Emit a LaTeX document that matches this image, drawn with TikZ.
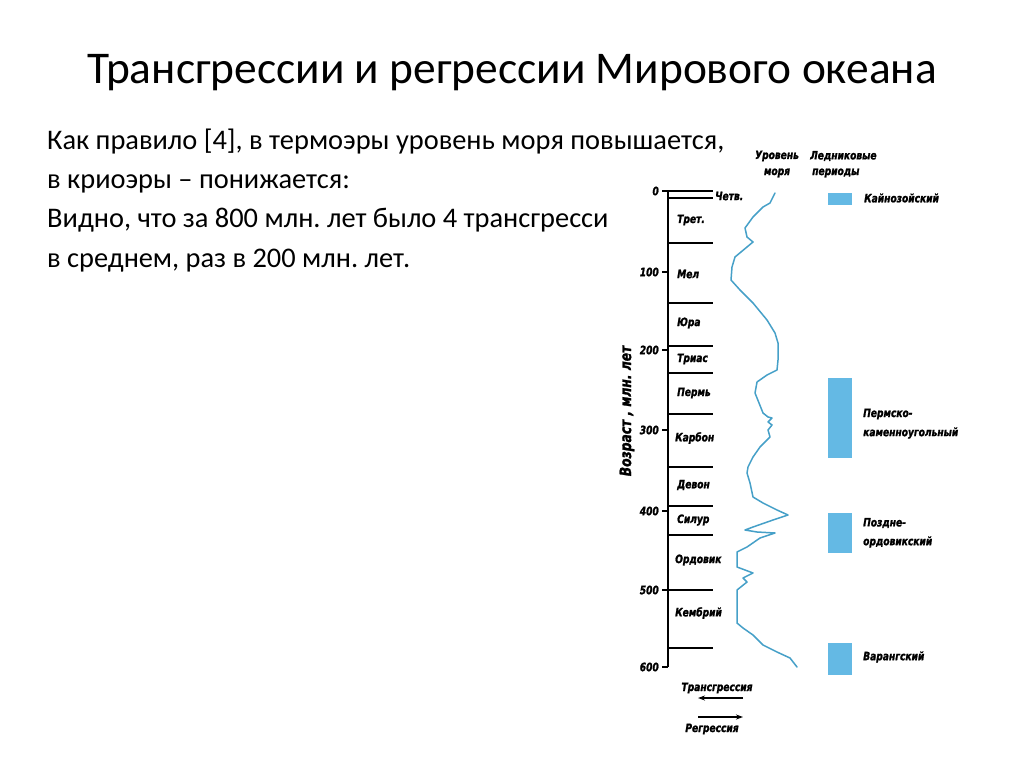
\documentclass[tikz,border=0pt]{standalone}
\usepackage{fontspec}
\setmainfont{Carlito}
\newfontfamily\chartfont[FakeStretch=0.88,FakeBold=1.5]{DejaVu Sans Condensed}
\usetikzlibrary{arrows.meta}
\definecolor{sea}{RGB}{70,160,200}
\definecolor{ice}{RGB}{100,185,228}
\frenchspacing
\tikzset{
  ch/.style={font=\chartfont\bfseries\itshape\fontsize{11.5}{13}\selectfont, inner sep=0pt},
  per/.style={ch, anchor=west},
  tl/.style={ch, anchor=east},
  bnd/.style={line width=1.6pt, black},
  icebox/.style={fill=ice, draw=none},
  body/.style={anchor=base west, inner sep=0pt, font=\fontsize{28.4}{34}\selectfont},
  arr/.style={line width=1.4pt, -{Stealth[length=7pt,width=5pt]}}
}
\begin{document}
\begin{tikzpicture}[x=1pt,y=-1pt]
\useasboundingbox (0,0) rectangle (1024,768);
\fill[white] (0,0) rectangle (1024,768);
% title
\node[anchor=base, inner sep=0pt, font=\fontsize{45.4}{52}\selectfont] (title) at (512,83) {Трансгрессии и регрессии Мирового океана};
% body text
\node[body] (l1) at (47,149) {Как правило [4], в термоэры уровень моря повышается,};
\node[body] (l2) at (47,188) {в криоэры – понижается:};
\node[body] (l3) at (47,227) {Видно, что за 800 млн. лет было 4 трансгресси};
\node[body] (l4) at (47,267) {в среднем, раз в 200 млн. лет.};
% axis
\coordinate (atop) at (668,191);
\coordinate (abot) at (668,667);
\draw[bnd] (atop) -- (abot);
% ticks and tick labels
\foreach \v/\y in {0/191,100/272,200/350,300/430,400/511,500/590,600/667}{
  \draw[bnd] (662,\y) -- (668,\y);
  \node[tl] (t\v) at (659,\y) {\v};
}
% period boundaries
\draw[bnd] (662,191) -- (713,191);
\foreach \y in {198,243,303,346,373,414,467,506,535,648}{
  \draw[bnd] (668,\y) -- (713,\y);
}
\draw[bnd] (662,590) -- (713,590);
% period labels
\node[ch, anchor=west] (q) at (715,196) {Четв.};
\node[per] (p1) at (677,220) {Трет.};
\node[per] (p2) at (677,274) {Мел};
\node[per] (p3) at (677,323) {Юра};
\node[per] (p4) at (677,359) {Триас};
\node[per] (p5) at (677,393) {Пермь};
\node[per] (p6) at (675,438) {Карбон};
\node[per] (p7) at (677,485) {Девон};
\node[per] (p8) at (677,520) {Силур};
\node[per] (p9) at (675,560) {Ордовик};
\node[per] (p10) at (675,613) {Кембрий};
% axis title
\node[ch, rotate=90, font=\chartfont\bfseries\itshape\fontsize{15.5}{17}\selectfont] (ytitle) at (627,411) {Возраст , млн. лет};
% column headers
\node[ch] (h1a) at (777,156) {Уровень};
\node[ch] (h1b) at (777,173) {моря};
\node[ch, anchor=west] (h2a) at (810,156) {Ледниковые};
\node[ch, anchor=west] (h2b) at (812,173) {периоды};
% sea-level curve
\draw[sea, line width=1.5pt, line join=round, line cap=round]
 (775,193) -- (770,203) -- (763,207) -- (753,217) -- (745,228) -- (747,237) -- (753,242)
 -- (747,247) -- (735,257) -- (732,267) -- (731,280) -- (740,290) -- (753,303) -- (767,320)
 -- (775,333) -- (778,343) -- (778,360) -- (777,370) -- (767,375) -- (757,382) -- (755,393)
 -- (759,403) -- (763,413) -- (768,417) -- (772,418) -- (768,422) -- (772,425) -- (768,430)
 -- (770,437) -- (760,447) -- (753,457) -- (748,467) -- (747,473) -- (750,483) -- (753,497)
 -- (763,503) -- (777,510) -- (788,515) -- (773,520) -- (753,527) -- (745,530) -- (757,532)
 -- (775,533) -- (760,538) -- (747,547) -- (737,552) -- (737,567) -- (753,573) -- (743,578)
 -- (747,582) -- (737,590) -- (737,623) -- (743,628) -- (753,635) -- (763,645) -- (777,652)
 -- (790,658) -- (797,667);
% glacial periods
\fill[icebox] (828,193) rectangle (852,205);
\node[ch, anchor=west] (g1) at (864,198) {Кайнозойский};
\fill[icebox] (828,378) rectangle (852,458);
\node[ch, anchor=west] (g2a) at (863,414) {Пермско-};
\node[ch, anchor=west] (g2b) at (863,433) {каменноугольный};
\fill[icebox] (828,513) rectangle (852,553);
\node[ch, anchor=west] (g3a) at (863,523) {Поздне-};
\node[ch, anchor=west] (g3b) at (863,542) {ордовикский};
\fill[icebox] (828,643) rectangle (852,675);
\node[ch, anchor=west] (g4) at (863,657) {Варангский};
% legend arrows
\node[ch] (tr) at (717,688) {Трансгрессия};
\coordinate (ta) at (743,698);
\coordinate (tb) at (698,698);
\draw[arr] (ta) -- (tb);
\coordinate (ra) at (698,717);
\coordinate (rb) at (743,717);
\draw[arr] (ra) -- (rb);
\node[ch] (rg) at (712,729) {Регрессия};
\end{tikzpicture}
\end{document}
